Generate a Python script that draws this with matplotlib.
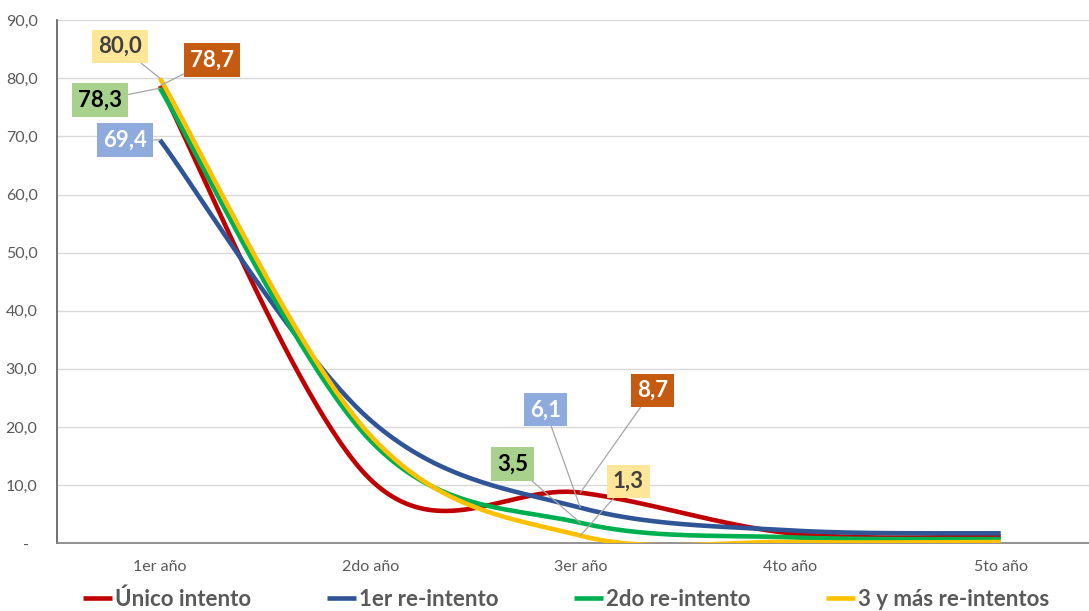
import numpy as np
import matplotlib
matplotlib.use("Agg")
import matplotlib.pyplot as plt

plt.rcParams['font.family'] = ['Lato', 'DejaVu Sans']

categorias = ['1er año', '2do año', '3er año', '4to año', '5to año']
series = ['Único intento', '1er re-intento', '2do re-intento', '3 y más re-intentos']
unico = [78.7, 11.0, 8.7, 1.7, 1.1]
re1 = [69.4, 21.2, 6.1, 2.2, 1.7]
re2 = [78.3, 17.7, 3.5, 1.0, 0.7]
re3 = [80.0, 18.6, 1.3, 0.2, 0.2]
colores = ['#C00000', '#2F5597', '#00B050', '#FFC000']

# etiquetas: (serie, indice categoria, fondo, color texto, desplazamiento px)
etiquetas = [
    (3, 0, '#FFE699', '#404040', (-40, 32)),
    (0, 0, '#C55A11', 'white', (52, 26)),
    (2, 0, '#A9D18E', 'black', (-60, -12)),
    (1, 0, '#8FAADC', 'white', (-35, 0)),
    (1, 2, '#8FAADC', 'white', (-35, 98)),
    (0, 2, '#C55A11', 'white', (72, 102)),
    (2, 2, '#A9D18E', 'black', (-68, 59)),
    (3, 2, '#FFE699', '#404040', (48, 54)),
]


def suavizar(y, n=60):
    # curva tipo "línea suavizada" de Excel (Catmull-Rom en Bezier)
    y = np.asarray(y, float)
    x = np.arange(len(y), dtype=float)
    xp = np.concatenate([[x[0]], x, [x[-1]]])
    yp = np.concatenate([[y[0]], y, [y[-1]]])
    t = np.linspace(0, 1, n)[:, None]
    xs, ys = [], []
    for i in range(len(y) - 1):
        p0 = np.array([xp[i + 1], yp[i + 1]])
        p3 = np.array([xp[i + 2], yp[i + 2]])
        c1 = p0 + (p3 - np.array([xp[i], yp[i]])) / 6
        c2 = p3 - (np.array([xp[i + 3], yp[i + 3]]) - p0) / 6
        b = (1 - t) ** 3 * p0 + 3 * (1 - t) ** 2 * t * c1 + 3 * (1 - t) * t ** 2 * c2 + t ** 3 * p3
        xs.append(b[:, 0])
        ys.append(b[:, 1])
    return np.concatenate(xs), np.concatenate(ys)


fig = plt.figure(figsize=(10.89, 6.11), dpi=100)
ax = fig.add_axes([0.0523, 0.111, 0.9477, 0.856])

datos = [unico, re1, re2, re3]
for nombre, vals, c in zip(series, datos, colores):
    xs, ys = suavizar(vals)
    ax.plot(xs, ys, color=c, lw=3.3, label=nombre, solid_capstyle='butt', zorder=3)

for s, i, fondo, ctexto, (dx, dy) in etiquetas:
    v = datos[s][i]
    ax.annotate(f'{v:.1f}'.replace('.', ','), xy=(i, v),
                xytext=(dx * 0.72, dy * 0.72), textcoords='offset points',
                ha='center', va='center', fontsize=16, fontweight='bold', color=ctexto,
                bbox=dict(boxstyle='square,pad=0.28', fc=fondo, ec='none'),
                arrowprops=dict(arrowstyle='-', color='#A6A6A6', lw=0.9, shrinkA=0, shrinkB=0),
                zorder=5)

ax.set_xlim(-0.49, 4.42)
ax.set_ylim(0, 90)
ax.set_yticks(np.arange(0, 91, 10))
ax.set_yticklabels(['-  '] + [f'{v:.1f}'.replace('.', ',') for v in np.arange(10, 91, 10)])
ax.set_xticks(range(len(categorias)))
ax.set_xticklabels(categorias)
ax.tick_params(axis='y', length=0, pad=14, labelsize=11.5, labelcolor='#595959')
ax.tick_params(axis='x', length=0, pad=12, labelsize=11.5, labelcolor='#595959')
ax.grid(axis='y', color='#D9D9D9', lw=1)
ax.set_axisbelow(True)
for lado in ['top', 'right']:
    ax.spines[lado].set_visible(False)
ax.spines['left'].set_color('#595959')
ax.spines['bottom'].set_color('#7F7F7F')
ax.spines['left'].set_linewidth(1.2)
ax.spines['bottom'].set_linewidth(1.2)

leg = fig.legend(loc='center', bbox_to_anchor=(0.52, 0.02), ncol=4, frameon=False,
                 prop={'size': 16, 'weight': 'bold'}, handlelength=1.3, handletextpad=0.15,
                 columnspacing=3.4)
for t in leg.get_texts():
    t.set_color('#595959')

fig.savefig('out.png', dpi=100)
